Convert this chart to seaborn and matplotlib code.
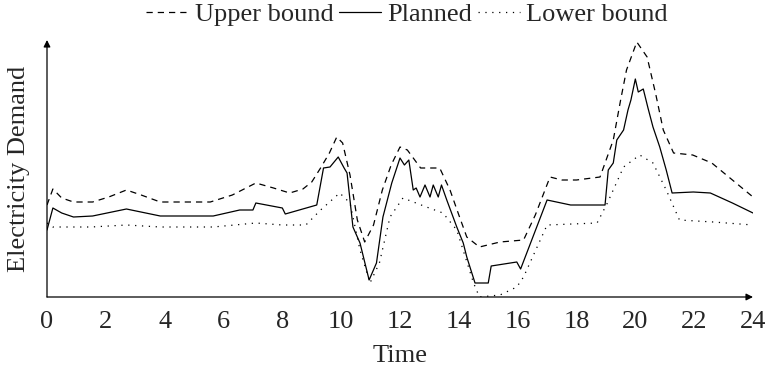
import matplotlib
matplotlib.use("Agg")
import matplotlib.pyplot as plt
import pandas as pd
import seaborn as sns

# hour of day and demand (arbitrary units)
upper_time = [0, 0.2, 0.5, 0.9, 1.55, 2.1, 2.7, 3.2, 3.85, 5.55, 6.3, 7.1, 7.7, 8.25, 8.7, 9.0,
              9.3, 9.6, 9.85, 10.05, 10.3, 10.55, 10.8, 11.1, 11.4, 11.7, 12.0, 12.25, 12.45,
              12.7, 13.35, 13.7, 14.0, 14.27, 14.7, 15.4, 16.2, 16.6, 17.1, 17.5, 18.0, 18.8,
              19.25, 19.5, 19.7, 20.05, 20.4, 20.7, 20.95, 21.3, 21.95, 22.6, 23.3, 24.0]
upper_demand = [9.5, 11.1, 10.2, 9.8, 9.8, 10.3, 11.0, 10.5, 9.8, 9.8, 10.5, 11.7, 11.2, 10.7, 11.1, 11.8,
                13.2, 14.7, 16.3, 15.7, 12.5, 8.0, 5.8, 7.5, 11.0, 13.5, 15.3, 15.0, 14.2,
                13.2, 13.2, 11.0, 8.5, 6.3, 5.3, 5.8, 6.0, 8.5, 12.3, 12.0, 12.0, 12.3,
                16.0, 20.0, 23.0, 25.8, 24.3, 20.5, 17.0, 14.7, 14.5, 13.7, 12.0, 10.3]

planned_time = [0, 0.2, 0.5, 0.9, 1.55, 2.7, 3.85, 5.65, 6.55, 7.0, 7.1, 8.0, 8.1, 9.17, 9.4, 9.62,
                9.9, 10.1, 10.2, 10.4, 10.64, 10.95, 11.2, 11.42, 11.72, 12.0, 12.15, 12.3, 12.45,
                12.55, 12.68, 12.85, 13.02, 13.13, 13.3, 13.41, 13.59, 13.93, 14.15, 14.27, 14.55,
                15.0, 15.1, 15.97, 16.1, 17.0, 17.8, 18.97, 19.08, 19.25, 19.37, 19.6, 19.75, 19.85,
                20.0, 20.1, 20.27, 20.43, 20.6, 20.83, 21.05, 21.25, 21.97, 22.55, 23.3, 24.0]
planned_demand = [7.0, 9.2, 8.7, 8.3, 8.4, 9.1, 8.4, 8.4, 9.0, 9.0, 9.7, 9.2, 8.6, 9.5, 13.2, 13.3,
                  14.3, 13.2, 12.7, 7.3, 5.7, 2.0, 3.7, 8.3, 11.7, 14.2, 13.5, 14.0, 11.0,
                  11.2, 10.3, 11.5, 10.3, 11.5, 10.3, 11.5, 10.0, 7.3, 5.7, 4.3, 1.7,
                  1.7, 3.4, 3.8, 3.1, 10.0, 9.5, 9.5, 13.0, 13.7, 16.0, 17.0, 19.0, 20.0,
                  22.1, 20.8, 21.1, 19.2, 17.3, 15.3, 13.0, 10.7, 10.8, 10.7, 9.7, 8.7]

lower_time = [0, 0.2, 1.5, 2.7, 3.85, 5.65, 7.1, 8.0, 8.8, 9.3, 9.95, 10.3, 10.64, 10.98, 11.3,
              11.66, 12.1, 12.9, 13.46, 13.93, 14.5, 14.7, 15.4, 15.97, 16.2, 17.0, 18.7, 19.05,
              19.6, 20.15, 20.6, 21.05, 21.5, 22.65, 24.0]
lower_demand = [7.7, 7.3, 7.3, 7.5, 7.3, 7.3, 7.7, 7.5, 7.5, 9.0, 10.7, 9.7, 5.0, 1.7, 3.7,
                8.3, 10.2, 9.3, 8.7, 7.0, 1.7, 0.3, 0.5, 1.3, 2.3, 7.5, 7.7, 9.7,
                13.3, 14.5, 13.7, 11.0, 8.0, 7.8, 7.5]

x_ticks = list(range(0, 25, 2))

sns.set_theme(style="white")
plt.rcParams["font.family"] = ["Liberation Serif", "DejaVu Serif"]
fs = 19

fig = plt.figure(figsize=(7.65, 3.72), dpi=100)
ax = fig.add_axes([47 / 765, 1 - 297 / 372, 706 / 765, 257 / 372])

series = [
    ("Upper bound", upper_time, upper_demand, (5, 4)),
    ("Planned", planned_time, planned_demand, ""),
    ("Lower bound", lower_time, lower_demand, (1, 4.5)),
]
for name, t, d, dash in series:
    df = pd.DataFrame({"Time": t, "Demand": d})
    sns.lineplot(data=df, x="Time", y="Demand", ax=ax, color="black", lw=0.9,
                 estimator=None, sort=False, label=name)
    if dash:
        ax.lines[-1].set_dashes(dash)

ax.set_xlim(0, 24)
ax.set_ylim(0.3, 26.0)
ax.set_xticks(x_ticks)
ax.set_yticks([])
ax.tick_params(axis="x", direction="inout", length=8, width=0.6, color="#888888",
               labelsize=fs, pad=6)
for s in ax.spines.values():
    s.set_visible(False)
arrow = dict(arrowstyle="-|>", color="black", lw=0.9, mutation_scale=10, shrinkA=0, shrinkB=0)
ax.annotate("", xy=(1.0, 0), xytext=(0, 0), xycoords="axes fraction", arrowprops=arrow)
ax.annotate("", xy=(0, 1.0), xytext=(0, 0), xycoords="axes fraction", arrowprops=arrow)

ax.set_xlabel("Time", fontsize=fs, labelpad=9)
ax.set_ylabel("Electricity Demand", fontsize=fs, labelpad=12)

ax.legend(loc="upper center", bbox_to_anchor=(0.532, 1.0), bbox_transform=fig.transFigure,
          ncol=3, frameon=False, fontsize=fs, handlelength=1.6, handletextpad=0.25,
          columnspacing=0.2, borderaxespad=0.0, borderpad=0.1)

fig.savefig("out.png", dpi=100)
